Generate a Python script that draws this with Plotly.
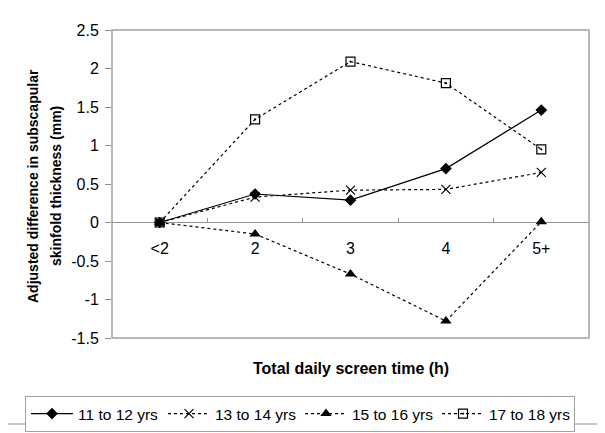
import plotly.graph_objects as go

categories = ["<2", "2", "3", "4", "5+"]
age_11_12 = [0, 0.37, 0.29, 0.70, 1.46]
age_13_14 = [0, 0.33, 0.42, 0.43, 0.65]
age_15_16 = [0, -0.15, -0.67, -1.28, 0.01]
age_17_18 = [0, 1.34, 2.09, 1.81, 0.95]
series_names = ["11 to 12 yrs", "13 to 14 yrs", "15 to 16 yrs", "17 to 18 yrs"]
y_ticks = [-1.5, -1, -0.5, 0, 0.5, 1, 1.5, 2, 2.5]

# page body has an 8px margin: figure sized so it fills the 605x433 window
OFF = 8
W, H = 605 - OFF, 433 - OFF
# plot area in window pixels: x 112..589, y 30..338
L, R, T, B = 112 - OFF, 605 - 589, 30 - OFF, 433 - 338
pw, ph = W - L - R, H - T - B

def px_x(p):
    return (p - OFF - L) / pw

def px_y(p):
    return (H - B - (p - OFF)) / ph

fig = go.Figure()
styles = [
    dict(dash="solid", symbol="diamond", size=9, mline=0),
    dict(dash="dot", symbol="x-thin-open", size=9, mline=1.2),
    dict(dash="dot", symbol="triangle-up", size=10, mline=0),
    dict(dash="dot", symbol="square-open-dot", size=9, mline=1.2),
]
for name, vals, st in zip(series_names, [age_11_12, age_13_14, age_15_16, age_17_18], styles):
    fig.add_trace(go.Scatter(
        x=categories, y=vals, name=name, mode="lines+markers",
        line=dict(color="black", width=1.2, dash=st["dash"]),
        marker=dict(symbol=st["symbol"], size=st["size"], color="black",
                    line=dict(color="black", width=st["mline"])),
    ))

fig.update_layout(
    width=W, height=H,
    margin=dict(l=L, r=R, t=T, b=B, autoexpand=False),
    paper_bgcolor="white", plot_bgcolor="white",
    font=dict(family="Liberation Sans, Arial, sans-serif", size=16, color="black"),
    showlegend=True,
    legend=dict(orientation="h", x=px_x(25), y=px_y(396), xanchor="left", yanchor="top",
                bordercolor="#a0a0a0", borderwidth=1, font=dict(size=15.5),
                entrywidth=80, entrywidthmode="pixels",
                itemwidth=42, tracegroupgap=0, bgcolor="white"),
    xaxis=dict(type="category", categoryorder="array", categoryarray=categories,
               range=[-0.5, 4.5], anchor="free", position=1.5 / 4,
               showline=False, tickson="boundaries", ticks="inside", ticklen=5,
               tickcolor="#909090", showgrid=False, zeroline=False,
               tickfont=dict(size=16), ticklabelstandoff=14, automargin=False),
    yaxis=dict(range=[-1.5, 2.5], tickvals=y_ticks,
               ticktext=[("%g" % v) for v in y_ticks],
               ticks="outside", ticklen=6, tickcolor="#909090",
               showgrid=False, zeroline=True, zerolinecolor="#909090", zerolinewidth=1,
               showline=False, tickfont=dict(size=16), ticklabelstandoff=3,
               automargin=False),
    shapes=[
        dict(type="rect", xref="paper", yref="paper", x0=0, x1=1, y0=0, y1=1,
             line=dict(color="#a0a0a0", width=1.5), layer="above"),
        dict(type="rect", xref="paper", yref="paper", x0=px_x(6), x1=px_x(598),
             y0=px_y(424), y1=px_y(7), line=dict(color="#909090", width=1)),
    ],
    annotations=[
        dict(text="<b>Total daily screen time (h)</b>", xref="paper", yref="paper",
             x=0.5, y=px_y(368), xanchor="center", yanchor="middle", showarrow=False,
             font=dict(size=16)),
        dict(text="<b>Adjusted difference in subscapular</b>", xref="paper", yref="paper",
             x=px_x(33), y=px_y(186), xanchor="center", yanchor="middle", showarrow=False,
             textangle=-90, font=dict(size=14)),
        dict(text="<b>skinfold thickness (mm)</b>", xref="paper", yref="paper",
             x=px_x(56), y=px_y(186), xanchor="center", yanchor="middle", showarrow=False,
             textangle=-90, font=dict(size=14)),
    ],
)

fig.write_html("out.html")
